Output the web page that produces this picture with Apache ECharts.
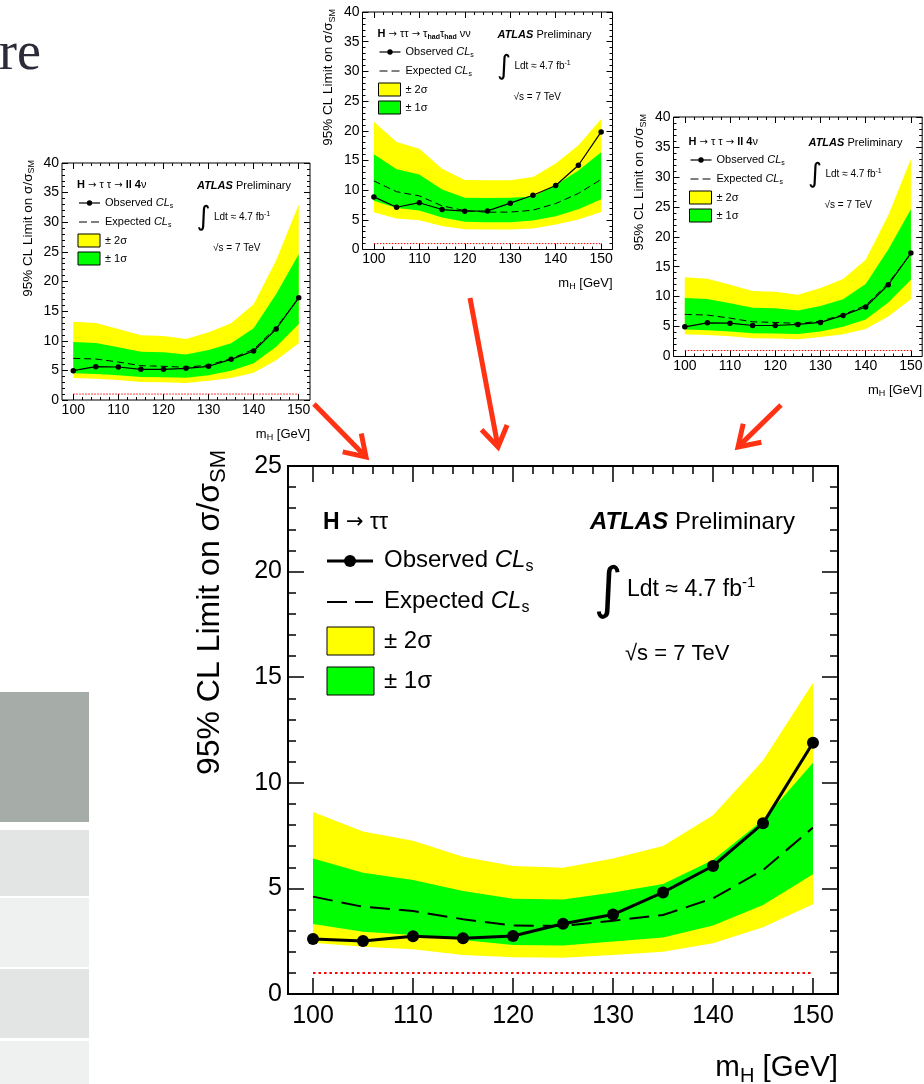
<!DOCTYPE html>
<html><head><meta charset="utf-8">
<script src="https://cdn.jsdelivr.net/npm/echarts@6/dist/echarts.min.js"></script>
<style>html,body{margin:0;padding:0;background:#fff}#c{width:924px;height:1084px}</style>
</head><body><div id="c"></div>
<script>
// ---------------- data ----------------
const massPoints = [100, 105, 110, 115, 120, 125, 130, 135, 140, 145, 150];
// combined H -> tautau (main plot)
const combObserved = [2.60, 2.51, 2.73, 2.64, 2.75, 3.33, 3.76, 4.81, 6.06, 8.08, 11.9];
const combExpected = [4.61, 4.13, 3.93, 3.54, 3.24, 3.22, 3.47, 3.74, 4.53, 5.87, 7.88];
const combPlus1    = [6.42, 5.74, 5.40, 4.88, 4.51, 4.48, 4.81, 5.21, 6.34, 8.24, 10.95];
const combMinus1   = [3.31, 2.95, 2.79, 2.56, 2.32, 2.30, 2.48, 2.68, 3.24, 4.21, 5.67];
const combPlus2    = [8.62, 7.69, 7.26, 6.50, 6.06, 5.98, 6.42, 7.01, 8.46, 11.05, 14.74];
const combMinus2   = [2.43, 2.24, 2.12, 1.85, 1.74, 1.72, 1.85, 2.00, 2.40, 3.16, 4.25];
// H -> tautau -> ll 4nu (small plots, left and right)
const llObserved = [4.95, 5.62, 5.57, 5.18, 5.18, 5.35, 5.69, 6.86, 8.27, 11.98, 17.27];
const llExpected = [7.03, 6.92, 6.41, 5.79, 5.69, 5.52, 5.91, 6.97, 8.55, 12.26, 17.16];
const llPlus1    = [9.79, 9.62, 8.89, 8.16, 8.04, 7.70, 8.44, 9.56, 12.09, 17.89, 24.58];
const llMinus1   = [4.50, 4.39, 4.16, 3.88, 3.83, 3.77, 4.16, 4.95, 6.19, 9.00, 12.83];
const llPlus2    = [13.22, 13.0, 11.98, 10.92, 10.8, 10.3, 11.42, 12.94, 16.15, 23.6, 33.0];
const llMinus2   = [3.71, 3.60, 3.38, 3.04, 3.00, 2.87, 3.27, 3.71, 4.61, 6.69, 9.56];
// H -> tautau -> had had nunu (small plot, middle)
const hhObserved = [8.86, 7.12, 7.88, 6.73, 6.45, 6.50, 7.80, 9.14, 10.77, 14.19, 19.8];
const hhExpected = [11.55, 9.73, 9.03, 7.35, 6.55, 6.28, 6.30, 6.62, 7.74, 9.45, 11.8];
const hhPlus1    = [16.04, 13.5, 12.65, 10.12, 8.72, 8.67, 8.70, 8.92, 10.85, 13.3, 16.4];
const hhMinus1   = [8.20, 7.00, 6.55, 5.40, 4.68, 4.60, 4.60, 4.88, 5.62, 6.80, 8.45];
const hhPlus2    = [21.5, 18.1, 16.95, 13.6, 11.72, 11.67, 11.67, 12.2, 14.48, 17.56, 22.0];
const hhMinus2   = [6.28, 5.22, 4.93, 3.97, 3.42, 3.36, 3.36, 3.54, 4.21, 5.05, 6.33];
const smReference = 1;

// ---------------- helpers ----------------
const FONT = '"Liberation Sans", Arial, Helvetica, sans-serif';
const X_MIN = 97.5, X_MAX = 152.5;
const grids = [], xAxes = [], yAxes = [], series = [], graphics = [];

function rich(fs) {
  const lh = Math.round(fs * 1.25);
  return {
    n: {fontFamily: FONT, fontSize: fs, lineHeight: lh},
    ar: {fontFamily: '"DejaVu Sans", sans-serif', fontSize: Math.round(fs * 0.9), lineHeight: lh},
    b: {fontFamily: FONT, fontSize: fs, lineHeight: lh, fontWeight: 'bold'},
    bi: {fontFamily: FONT, fontSize: fs, lineHeight: lh, fontWeight: 'bold', fontStyle: 'italic'},
    i: {fontFamily: FONT, fontSize: fs, lineHeight: lh, fontStyle: 'italic'},
    sub: {fontFamily: FONT, fontSize: Math.round(fs * 0.68), lineHeight: Math.round(fs * 0.55), verticalAlign: 'bottom'},
    bsub: {fontFamily: FONT, fontSize: Math.round(fs * 0.68), lineHeight: Math.round(fs * 0.55), verticalAlign: 'bottom', fontWeight: 'bold'},
    sup: {fontFamily: FONT, fontSize: Math.round(fs * 0.65), lineHeight: Math.round(fs * 0.5), verticalAlign: 'top'}
  };
}
function addText(x, y, text, fs, o) {
  o = o || {};
  const al = o.align || 'left', va = o.valign || 'middle';
  graphics.push({type: 'text', x: x, y: y, rotation: o.rot || 0, z: 100, silent: true,
    style: {text: text, fill: o.color || '#000', font: (o.fontStr || (fs + 'px ' + FONT)),
      align: al, textAlign: al, verticalAlign: va, textVerticalAlign: va, rich: o.plain ? undefined : rich(fs)}});
}
function addLine(x1, y1, x2, y2, w, color, dash) {
  graphics.push({type: 'line', z: 100, silent: true, shape: {x1, y1, x2, y2},
    style: {stroke: color || '#000', lineWidth: w, lineDash: dash || null}});
}
function addRect(x, y, w, h, fill, lw) {
  graphics.push({type: 'rect', z: 100, silent: true, shape: {x, y, width: w, height: h},
    style: {fill: fill, stroke: '#000', lineWidth: lw}});
}
function addCircle(cx, cy, r) {
  graphics.push({type: 'circle', z: 100, silent: true, shape: {cx, cy, r}, style: {fill: '#000'}});
}
function addArrow(x1, y1, x2, y2) {
  const col = '#ff3314';
  const dx = x2 - x1, dy = y2 - y1, L = Math.hypot(dx, dy);
  const ux = dx / L, uy = dy / L, px = -uy, py = ux;
  const hl = 20, hw = 13;
  graphics.push({type: 'line', z: 90, silent: true, shape: {x1, y1, x2: x2 - ux * 2, y2: y2 - uy * 2},
    style: {stroke: col, lineWidth: 5}});
  graphics.push({type: 'polyline', z: 90, silent: true,
    shape: {points: [[x2 - ux * hl + px * hw, y2 - uy * hl + py * hw], [x2, y2], [x2 - ux * hl - px * hw, y2 - uy * hl - py * hw]]},
    style: {stroke: col, lineWidth: 5, fill: null, lineJoin: 'miter'}});
}

function bandSeries(xIdx, yIdx, lo, hi, color, z) {
  return {
    type: 'custom', xAxisIndex: xIdx, yAxisIndex: yIdx, silent: true, z: z, animation: false,
    data: massPoints.map((m, i) => [m, lo[i], hi[i]]),
    encode: {x: 0, y: [1, 2]},
    renderItem: function (params, api) {
      if (params.dataIndexInside !== 0) return null;
      const n = params.dataInsideLength, up = [], dn = [];
      for (let j = 0; j < n; j++) {
        up.push(api.coord([api.value(0, j), api.value(2, j)]));
        dn.push(api.coord([api.value(0, j), api.value(1, j)]));
      }
      return {type: 'polygon', shape: {points: up.concat(dn.reverse())}, style: {fill: color, stroke: null}};
    }
  };
}

function addPanel(p, d) {
  const gD = grids.length;
  grids.push({left: p.left, top: p.top, width: p.width, height: p.height, show: true,
    borderColor: '#000', borderWidth: p.frame, backgroundColor: 'rgba(0,0,0,0)', outerBoundsMode: 'none', containLabel: false});
  const ppu = p.width / (X_MAX - X_MIN);
  const x0 = massPoints[0], x1 = massPoints[massPoints.length - 1];
  const gT = grids.length;
  grids.push({left: p.left + (x0 - X_MIN) * ppu, top: p.top, width: (x1 - x0) * ppu, height: p.height,
    show: false, outerBoundsMode: 'none', containLabel: false});
  const xD = xAxes.length;
  xAxes.push({gridIndex: gD, type: 'value', min: X_MIN, max: X_MAX, show: false});
  const tickX = (pos, labels) => ({gridIndex: gT, type: 'value', position: pos, min: x0, max: x1, interval: 10,
    axisLine: {show: false}, splitLine: {show: false},
    axisTick: {show: true, inside: true, length: p.major, lineStyle: {color: '#000', width: p.tw}},
    minorTick: {show: true, splitNumber: 5, length: p.minor, lineStyle: {color: '#000', width: p.tw}},
    axisLabel: {show: labels, fontFamily: FONT, fontSize: p.fs, color: '#000', margin: p.xm}});
  xAxes.push(tickX('bottom', true));
  xAxes.push(tickX('top', false));
  const yL = yAxes.length;
  const tickY = (pos, labels) => ({gridIndex: gD, type: 'value', position: pos, min: 0, max: p.ymax, interval: 5,
    axisLine: {show: false}, splitLine: {show: false},
    axisTick: {show: true, inside: true, length: p.major, lineStyle: {color: '#000', width: p.tw}},
    minorTick: {show: true, splitNumber: 5, length: p.minor, lineStyle: {color: '#000', width: p.tw}},
    axisLabel: {show: labels, fontFamily: FONT, fontSize: p.fs, color: '#000', margin: p.ym}});
  yAxes.push(tickY('left', true));
  yAxes.push(tickY('right', false));
  yAxes.push({gridIndex: gT, type: 'value', show: false, min: 0, max: 1});

  const pairs = arr => massPoints.map((m, i) => [m, arr[i]]);
  const base = {type: 'line', xAxisIndex: xD, yAxisIndex: yL, silent: true, animation: false};
  series.push(bandSeries(xD, yL, d.m2, d.p2, '#ffff00', 1));
  series.push(bandSeries(xD, yL, d.m1, d.p1, '#00ff00', 2));
  series.push(Object.assign({}, base, {data: [[x0, smReference], [x1, smReference]], symbol: 'none', z: 3,
    lineStyle: {color: '#ff0000', width: p.rw, type: p.rdash}}));
  series.push(Object.assign({}, base, {data: pairs(d.exp), symbol: 'none', z: 4,
    lineStyle: {color: '#000', width: p.ew, type: p.edash}}));
  series.push(Object.assign({}, base, {data: pairs(d.obs), symbol: 'circle', symbolSize: p.ss, z: 5,
    itemStyle: {color: '#000'}, lineStyle: {color: '#000', width: p.ow}}));
}

const smallStyle = {ymax: 40, frame: 1, major: 6, minor: 3, tw: 1, fs: 14, xm: 3, ym: 3,
  rw: 1, rdash: [1.5, 1.5], ew: 1, edash: [7, 4], ss: 5.5, ow: 1.2};
const mainStyle = {ymax: 25, frame: 2, major: 16, minor: 8, tw: 1.5, fs: 25, xm: 10, ym: 6,
  rw: 2, rdash: [2.5, 3], ew: 2, edash: [20, 9], ss: 12, ow: 3};

const llData = {obs: llObserved, exp: llExpected, p1: llPlus1, m1: llMinus1, p2: llPlus2, m2: llMinus2};
const hhData = {obs: hhObserved, exp: hhExpected, p1: hhPlus1, m1: hhMinus1, p2: hhPlus2, m2: hhMinus2};
const combData = {obs: combObserved, exp: combExpected, p1: combPlus1, m1: combMinus1, p2: combPlus2, m2: combMinus2};

const llTitle = '{b|H }{ar|→}{n| τ τ }{ar|→}{b| ll 4}{n|ν}';
const panels = [
  {p: Object.assign({left: 62, top: 163, width: 248, height: 237}, smallStyle), d: llData, title: llTitle, dy: 0},
  {p: Object.assign({left: 362.5, top: 12, width: 250, height: 237.5}, smallStyle), d: hhData,
   title: '{b|H }{ar|→}{n| ττ }{ar|→}{n| τ}{bsub|had}{n|τ}{bsub|had}{n| νν}', dy: 0},
  {p: Object.assign({left: 673.5, top: 117, width: 248.7, height: 239.5}, smallStyle), d: llData, title: llTitle, dy: 3}
];

// ---------------- background slide pieces ----------------
graphics.push({type: 'rect', z: 0, silent: true, shape: {x: 0, y: 692, width: 89, height: 130}, style: {fill: '#a6ada8'}});
graphics.push({type: 'rect', z: 0, silent: true, shape: {x: 0, y: 830, width: 89, height: 66}, style: {fill: '#e3e5e4'}});
graphics.push({type: 'rect', z: 0, silent: true, shape: {x: 0, y: 898, width: 89, height: 69}, style: {fill: '#eff1f0'}});
graphics.push({type: 'rect', z: 0, silent: true, shape: {x: 0, y: 969, width: 89, height: 69}, style: {fill: '#e3e5e4'}});
graphics.push({type: 'rect', z: 0, silent: true, shape: {x: 0, y: 1041, width: 89, height: 43}, style: {fill: '#eff1f0'}});
addText(41, 82, 're', 54, {align: 'right', valign: 'bottom', plain: true, color: '#2c2c38',
  fontStr: '54px "Liberation Serif", "DejaVu Serif", serif'});

// ---------------- small panels ----------------
panels.forEach(pn => {
  addPanel(pn.p, pn.d);
  const fx = pn.p.left, fy = pn.p.top, dy = pn.dy;
  const X = v => fx + v, Y = v => fy + v + dy;
  addText(X(15), Y(22), pn.title, 11);
  addLine(X(17), Y(40), X(38), Y(40), 1.2);
  addCircle(X(27.5), Y(40), 2.7);
  addText(X(43), Y(40), '{n|Observed }{i|CL}{sub|s}', 11);
  addLine(X(17), Y(59), X(38), Y(59), 1, '#000', [8, 4]);
  addText(X(43), Y(59), '{n|Expected }{i|CL}{sub|s}', 11);
  addRect(X(16), Y(71), 22, 13, '#ffff00', 1);
  addText(X(43), Y(77.5), '{n|± 2σ}', 11);
  addRect(X(16), Y(89), 22, 13, '#00ff00', 1);
  addText(X(43), Y(95.5), '{n|± 1σ}', 11);
  addText(X(135), Y(23), '{bi|ATLAS}{n| Preliminary}', 11);
  addText(X(141.5), Y(54.5), '∫', 27, {align: 'center', plain: true, fontStr: '27px "DejaVu Sans", sans-serif'});
  addText(X(152), Y(54), '{n|Ldt ≈ 4.7 fb}{sup|-1}', 10);
  addText(X(151), Y(85), '{n|√s = 7 TeV}', 10);
  // axis titles
  addText(fx - 34, fy - 3, '{n|95% CL Limit on σ/σ}{sub|SM}', 13.5, {align: 'right', rot: Math.PI / 2});
  addText(fx + pn.p.width, fy + pn.p.height + 34, '{n|m}{sub|H}{n| [GeV]}', 13, {align: 'right'});
});

// ---------------- main panel ----------------
addPanel(Object.assign({left: 288, top: 466, width: 550, height: 528}, mainStyle), combData);
addText(323, 523, '{b|H }{ar|→}{n| ττ}', 23);
addLine(327, 561, 373, 561, 3);
addCircle(350, 561, 6);
addText(384, 560, '{n|Observed }{i|CL}{sub|s}', 24);
addLine(327, 602, 373, 602, 2, '#000', [20, 8]);
addText(384, 601, '{n|Expected }{i|CL}{sub|s}', 24);
addRect(327, 627, 47, 28, '#ffff00', 1);
addText(384, 641, '{n|± 2σ}', 24);
addRect(327, 667, 47, 28, '#00ff00', 1);
addText(384, 681, '{n|± 1σ}', 24);
addText(590, 522, '{bi|ATLAS}{n| Preliminary}', 24);
addText(608, 592, '∫', 56, {align: 'center', plain: true, fontStr: '56px "DejaVu Sans", sans-serif'});
addText(627, 590, '{n|Ldt ≈ 4.7 fb}{sup|-1}', 23);
addText(625, 654, '{n|√s = 7 TeV}', 22);
addText(210, 450, '{n|95% CL Limit on σ/σ}{sub|SM}', 32, {align: 'right', rot: Math.PI / 2});
addText(838, 1068, '{n|m}{sub|H}{n| [GeV]}', 29.5, {align: 'right'});

// ---------------- arrows ----------------
addArrow(314, 404, 366, 457);
addArrow(470, 298, 498, 447);
addArrow(781, 405, 738, 447);

const chart = echarts.init(document.getElementById('c'), null, {renderer: 'canvas'});
chart.setOption({
  animation: false,
  backgroundColor: '#ffffff',
  grid: grids, xAxis: xAxes, yAxis: yAxes, series: series,
  graphic: {elements: graphics}
});
</script></body></html>
